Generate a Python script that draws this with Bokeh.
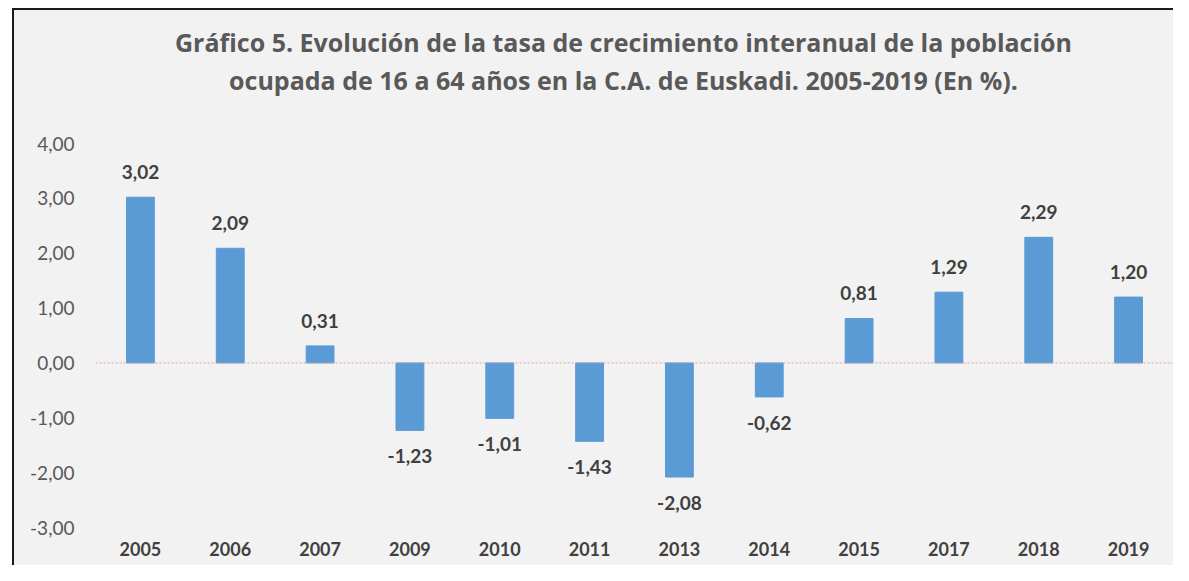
from bokeh.plotting import figure
from bokeh.models import ColumnDataSource, FactorRange, Range1d, FixedTicker, Span, Div
from bokeh.layouts import column
from bokeh.core.properties import value
from bokeh.embed import file_html
from bokeh.resources import INLINE

years = ["2005", "2006", "2007", "2009", "2010", "2011", "2013", "2014", "2015", "2017", "2018", "2019"]
rates = [3.02, 2.09, 0.31, -1.23, -1.01, -1.43, -2.08, -0.62, 0.81, 1.29, 2.29, 1.20]
y_ticks = [-3, -2, -1, 0, 1, 2, 3, 4]
y_tick_labels = ["-3,00", "-2,00", "-1,00", "0,00", "1,00", "2,00", "3,00", "4,00"]
title_lines = ["Gráfico 5. Evolución de la tasa de crecimiento interanual de la población",
               "ocupada de 16 a 64 años en la C.A. de Euskadi. 2005-2019 (En %)."]

FONT = "Lato"
TITLE_FONT = "Open Sans"
BG = "#F2F2F2"
W = 1159

labels = [f"{v:.2f}".replace(".", ",") for v in rates]
offsets = [-25 if v >= 0 else 26 for v in rates]

src = ColumnDataSource(dict(year=years, rate=rates, label=labels, off=offsets))

title_div = Div(
    text=(f'<div style="box-sizing:border-box;width:{W}px;margin:0;padding:13px 0 0 60px;'
          f"text-align:center;font-family:'{TITLE_FONT}';font-weight:bold;font-size:25px;"
          'line-height:38px;color:#595959;white-space:nowrap;">'
          + "<br>".join(title_lines) + "</div>"),
    width=W, height=121, margin=(0, 0, 0, 0), styles={"background-color": BG})

p = figure(x_range=FactorRange(*years), y_range=Range1d(-3, 4),
           width=W, height=434, output_backend="svg", toolbar_location=None,
           min_border_left=81, min_border_right=0, min_border_top=12, min_border_bottom=38)
p.background_fill_color = BG
p.border_fill_color = BG
p.outline_line_color = None
p.grid.grid_line_color = None

p.vbar(x="year", top="rate", bottom=0, width=0.31, source=src,
       fill_color="#5B9BD5", line_color="#5B9BD5")

p.add_layout(Span(location=0, dimension="width", line_color="#DDA0A0",
                  line_width=1, line_dash="2 2"))

p.text(x="year", y="rate", text="label", y_offset="off", source=src,
       text_align="center", text_baseline="middle",
       text_font=value(FONT), text_font_style="bold", text_font_size="19px",
       text_color="#404040")

p.yaxis.ticker = FixedTicker(ticks=y_ticks)
p.yaxis.major_label_overrides = dict(zip(y_ticks, y_tick_labels))
for ax in (p.xaxis, p.yaxis):
    ax.axis_line_color = None
    ax.major_tick_line_color = None
    ax.minor_tick_line_color = None
    ax.major_label_text_font = FONT
    ax.major_label_text_font_size = "19px"
p.yaxis.major_label_text_color = "#595959"
p.yaxis.major_label_standoff = 15
p.xaxis.major_label_text_color = "#404040"
p.xaxis.major_label_text_font_style = "bold"
p.xaxis.major_label_text_font_size = "18px"
p.xaxis.major_label_standoff = 8

layout = column(title_div, p, spacing=0)
layout.styles = {"margin-left": "12px", "margin-top": "8px", "background-color": BG,
                 "border-left": "2px solid #1a1a1a", "border-top": "2px solid #1a1a1a"}

open("out.html", "w").write(file_html(layout, INLINE))
